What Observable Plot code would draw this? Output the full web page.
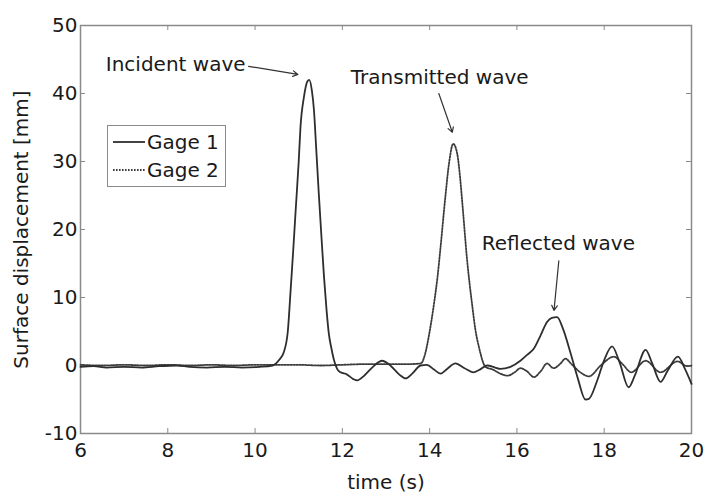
<!DOCTYPE html>
<html>
<head>
<meta charset="utf-8">
<script src="https://cdn.jsdelivr.net/npm/d3@7"></script>
<script src="https://cdn.jsdelivr.net/npm/@observablehq/plot@0.6"></script>
<style>
  body { margin: 0; background: #fff; }
  #chart { position: relative; width: 707px; height: 493px; font-family: "DejaVu Sans", sans-serif; color: #1a1a1a; }
  #legend { position: absolute; left: 107px; top: 125px; width: 117px; height: 60px; border: 1.5px solid #8a8a8a; background: #fff; }
  .entry { position: absolute; left: 5px; height: 24px; display: flex; align-items: center; font-size: 20px; }
  .entry svg { width: 32px; height: 10px; margin-right: 2px; }
</style>
</head>
<body>
<div id="chart"></div>
<script>
// Gage 1: incident wave followed by the reflected wave
const time1 = [6.0, 6.3, 6.6, 7.0, 7.4, 7.8, 8.2, 8.5, 8.9, 9.3, 9.7, 10.1, 10.4, 10.55, 10.66, 10.75, 10.81, 10.87, 10.93, 11.0,
  11.04, 11.12, 11.2, 11.24, 11.3, 11.35, 11.4, 11.46, 11.52, 11.58, 11.64, 11.69, 11.75, 11.8, 11.88, 11.96, 12.1, 12.25, 12.34, 12.5,
  12.7, 12.91, 13.1, 13.3, 13.45, 13.6, 13.79, 13.94, 14.1, 14.25, 14.4, 14.59, 14.8, 15.0, 15.15, 15.32, 15.5, 15.62, 15.85, 16.08,
  16.24, 16.39, 16.54, 16.69, 16.8, 16.92, 17.05, 17.23, 17.4, 17.57, 17.65, 17.84, 18.0, 18.18, 18.35, 18.56, 18.7, 18.95, 19.1, 19.29,
  19.45, 19.69, 19.85, 20.0];
const gage1 = [-0.2, -0.1, -0.3, -0.2, -0.3, -0.1, 0.0, -0.2, -0.3, -0.2, -0.3, -0.2, 0.0, 0.8, 2.0, 5.0, 10.6, 16.5, 22.8, 30.0,
  35.0, 39.5, 41.8, 42.0, 40.5, 37.5, 32.0, 25.3, 19.0, 13.0, 8.0, 4.7, 2.5, 1.0, -0.5, -1.0, -1.3, -2.0, -2.2, -1.5,
  -0.2, 0.7, 0.0, -1.3, -1.9, -1.2, 0.0, 0.1, -0.6, -1.2, -0.5, 0.3, -0.4, -1.0, -0.6, 0.0, -0.3, -0.5, -0.2, 0.7,
  1.6, 2.5, 4.4, 6.4, 7.0, 7.1, 5.5, 1.8, -2.0, -5.0, -4.9, -2.2, 0.8, 2.8, 0.5, -3.2, -1.5, 2.3, 0.3, -2.4,
  -0.8, 1.3, -0.5, -2.7];

// Gage 2: transmitted wave
const time2 = [6.0, 6.5, 7.0, 7.5, 8.0, 8.5, 9.0, 9.5, 10.0, 10.5, 11.0, 11.5, 12.0, 12.5, 13.0, 13.5, 13.8, 13.9, 14.0, 14.1,
  14.18, 14.25, 14.36, 14.45, 14.54, 14.63, 14.7, 14.75, 14.86, 14.98, 15.05, 15.13, 15.28, 15.45, 15.62, 15.78, 15.95, 16.08, 16.22, 16.39,
  16.55, 16.69, 16.84, 17.0, 17.11, 17.25, 17.45, 17.65, 17.92, 18.22, 18.42, 18.62, 18.95, 19.29, 19.68, 19.9, 20.0];
const gage2 = [0.1, 0.0, 0.1, 0.0, 0.1, 0.0, 0.1, 0.0, 0.1, 0.1, 0.1, 0.0, 0.1, 0.2, 0.2, 0.2, 0.3, 1.8, 5.0, 9.1,
  13.0, 17.4, 24.8, 30.0, 32.6, 31.2, 27.5, 23.8, 15.4, 8.6, 5.2, 2.7, -0.2, -0.6, -1.2, -1.5, -1.0, -0.4, -0.8, -1.7,
  -0.8, 0.3, -0.4, 0.3, 1.0, 0.2, -1.0, -1.6, 0.0, 1.3, 0.2, -1.0, 0.7, -1.0, 0.6, -0.1, 0.0];

// Axis ticks
const xTicks = [6, 8, 10, 12, 14, 16, 18, 20];
const yTicks = [-10, 0, 10, 20, 30, 40, 50];

// Annotations (data units)
const noteText = ["Incident wave", "Transmitted wave", "Reflected wave"];
const noteX = [8.18, 14.23, 16.95];
const noteY = [44.3, 42.4, 17.9];
const arrowX1 = [9.85, 14.21, 16.96];
const arrowY1 = [44.0, 40.0, 15.4];
const arrowX2 = [10.98, 14.52, 16.85];
const arrowY2 = [42.8, 34.3, 8.1];

const g1 = time1.map((t, i) => ({t, v: gage1[i]}));
const g2 = time2.map((t, i) => ({t, v: gage2[i]}));
const notes = noteText.map((text, i) => ({text, x: noteX[i], y: noteY[i]}));
const arrows = arrowX1.map((x1, i) => ({x1, y1: arrowY1[i], x2: arrowX2[i], y2: arrowY2[i]}));

const W = 707, H = 493, mL = 80, mR = 16, mT = 25, mB = 60;
const innerW = W - mL - mR, innerH = H - mT - mB;
const tick = 5;

const chart = Plot.plot({
  width: W,
  height: H,
  marginLeft: mL,
  marginRight: mR,
  marginTop: mT,
  marginBottom: mB,
  style: {fontFamily: "DejaVu Sans, sans-serif", fontSize: "20px", color: "#1a1a1a", background: "#fff"},
  x: {domain: [6, 20]},
  y: {domain: [-10, 50]},
  marks: [
    Plot.frame({stroke: "#8a8a8a", strokeWidth: 1.5}),
    // inward ticks on all four sides
    Plot.tickX(xTicks, {x: d => d, stroke: "#8a8a8a", insetTop: innerH - tick}),
    Plot.tickX(xTicks, {x: d => d, stroke: "#8a8a8a", insetBottom: innerH - tick}),
    Plot.tickY(yTicks, {y: d => d, stroke: "#8a8a8a", insetRight: innerW - tick}),
    Plot.tickY(yTicks, {y: d => d, stroke: "#8a8a8a", insetLeft: innerW - tick}),
    Plot.axisX(xTicks, {anchor: "bottom", tickSize: 0, tickPadding: 9, fontSize: 20, fill: "#1a1a1a",
      label: "time (s)", labelAnchor: "center", labelOffset: 55, labelArrow: "none"}),
    Plot.axisY(yTicks, {anchor: "left", tickSize: 0, tickPadding: 3, fontSize: 20, fill: "#1a1a1a",
      tickFormat: d => String(d), label: "Surface displacement [mm]", labelAnchor: "center", labelOffset: 67, labelArrow: "none"}),
    Plot.line(g2, {x: "t", y: "v", stroke: "#3c3c3c", strokeWidth: 1.8, strokeDasharray: "1.6,1.4", curve: "monotone-x"}),
    Plot.line(g1, {x: "t", y: "v", stroke: "#2e2e2e", strokeWidth: 1.8, curve: "monotone-x"}),
    Plot.text(notes, {x: "x", y: "y", text: "text", fontSize: 20, fill: "#1a1a1a"}),
    Plot.arrow(arrows, {x1: "x1", y1: "y1", x2: "x2", y2: "y2", stroke: "#333", strokeWidth: 1.2, headLength: 7})
  ]
});

const host = document.getElementById("chart");
host.appendChild(chart);

// Legend box over the upper-left of the plot area
const legend = document.createElement("div");
legend.id = "legend";
legend.innerHTML = `
  <div class="entry" style="top:4px"><svg><line x1="0" x2="32" y1="5" y2="5" stroke="#2e2e2e" stroke-width="1.8"/></svg>Gage 1</div>
  <div class="entry" style="top:32px"><svg><line x1="0" x2="32" y1="5" y2="5" stroke="#3c3c3c" stroke-width="1.8" stroke-dasharray="1.6,1.4"/></svg>Gage 2</div>`;
host.appendChild(legend);
</script>
</body>
</html>
